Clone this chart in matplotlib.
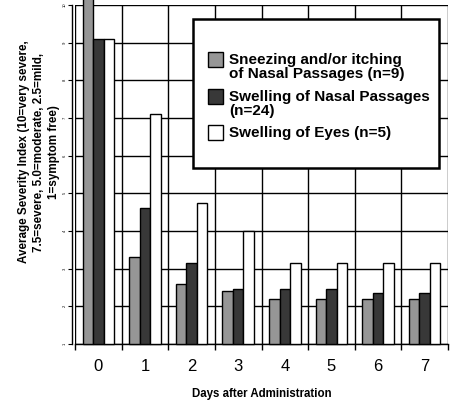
import matplotlib.pyplot as plt
import numpy as np
from matplotlib.patches import Rectangle

plt.rcParams['font.family'] = ['Liberation Sans', 'DejaVu Sans']

days = [0, 1, 2, 3, 4, 5, 6, 7]
sneezing = [10.2, 3.3, 2.6, 2.4, 2.2, 2.2, 2.2, 2.2]
swelling_nasal = [9.1, 4.6, 3.15, 2.45, 2.45, 2.45, 2.35, 2.35]
swelling_eyes = [9.1, 7.1, 4.75, 4.0, 3.15, 3.15, 3.15, 3.15]
labels = ['Sneezing and/or itching\nof Nasal Passages (n=9)',
          'Swelling of Nasal Passages\n(n=24)',
          'Swelling of Eyes (n=5)']
colors = ['#969696', '#383838', '#ffffff']
ylabel = 'Average Severity Index (10=very severe,\n7.5=severe, 5.0=moderate, 2.5=mild,\n1=symptom free)'

W, H = 454, 400
fig = plt.figure(figsize=(W / 100, H / 100), dpi=100)
ax = fig.add_axes([75 / W, 1 - 344 / H, 373 / W, 339 / H])

def fx(px):
    return px / W

def fy(py):
    return 1 - py / H

# spine position first (it resets the ticks)
for s in ['top', 'right']:
    ax.spines[s].set_visible(False)
ax.spines['left'].set_position(('outward', 2))
ax.spines['left'].set_linewidth(1.0)
ax.spines['bottom'].set_linewidth(1.0)

x = np.arange(len(days))
w = 0.225
series = [sneezing, swelling_nasal, swelling_eyes]
for i, vals in enumerate(series):
    bars = ax.bar(x + (i - 1) * w, np.array(vals) - 1, w, bottom=1,
                  color=colors[i], edgecolor='black', linewidth=1.0, zorder=3)
    for b in bars:
        b.set_clip_on(False)

ax.set_xlim(-0.5, 7.5)
ax.set_ylim(1, 10)
ax.set_yticks(np.arange(1, 11))
ax.set_yticklabels([str(v) for v in range(1, 11)], rotation=90, va='center')
ax.set_xticks(x)
ax.set_xticklabels([str(d) for d in days])
ax.set_xticks(np.arange(-0.5, 8.0, 1.0), minor=True)
ax.tick_params(axis='x', which='major', length=0, pad=11, labelsize=12)
ax.tick_params(axis='x', which='minor', length=4, direction='out', width=1)
ax.tick_params(axis='y', length=3, width=0.8, pad=1, labelsize=3)

ax.set_axisbelow(True)
ax.grid(axis='y', which='major', color='black', linewidth=1.0)
ax.grid(axis='x', which='minor', color='black', linewidth=1.0)

ax.set_xlabel('Days after Administration', fontsize=8.3, fontweight='bold', labelpad=10)
fig.text(fx(39), fy(152), ylabel, rotation=90, fontsize=8.4, fontweight='bold',
         ha='center', va='center', multialignment='center', linespacing=1.3)

# legend box, drawn by hand so handles sit on the first line of each label
fig.add_artist(Rectangle((fx(193), fy(168)), fx(439) - fx(193), fy(19) - fy(168),
                         transform=fig.transFigure, facecolor='white',
                         edgecolor='black', linewidth=1.8, zorder=5))
handle_tops = [52, 89, 125]
line_gap = 14
for c, lab, top in zip(colors, labels, handle_tops):
    fig.add_artist(Rectangle((fx(208), fy(top + 15)), fx(15), 15 / H,
                             transform=fig.transFigure, facecolor=c,
                             edgecolor='black', linewidth=1.0, zorder=6))
    for k, line in enumerate(lab.split('\n')):
        fig.text(fx(229), fy(top + 8 + k * line_gap), line, fontsize=11,
                 fontweight='bold', va='center', ha='left', zorder=7)

fig.savefig('out.png', dpi=100)
